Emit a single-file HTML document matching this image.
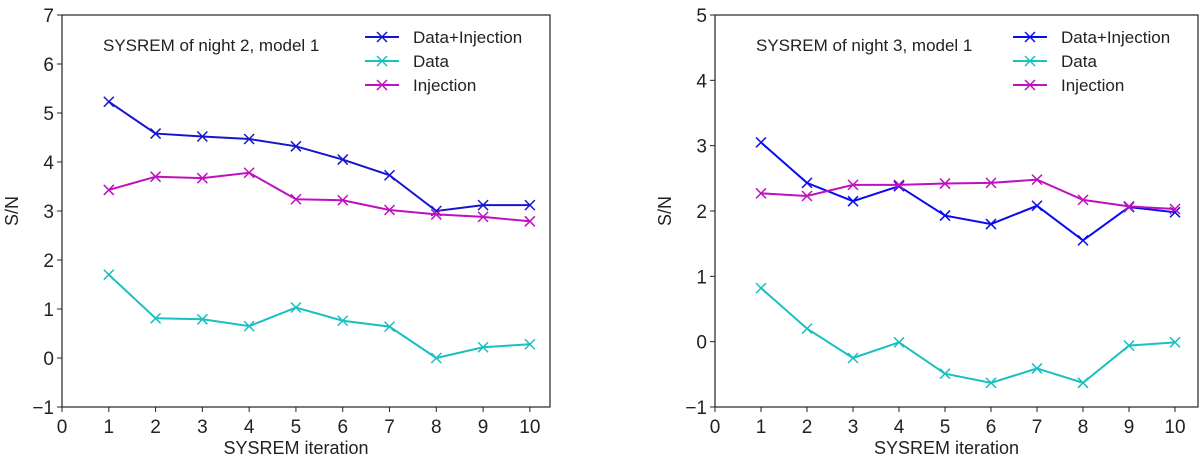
<!DOCTYPE html>
<html><head><meta charset="utf-8"><style>
body{margin:0;background:#fff;}
svg text{font-family:"Liberation Sans",sans-serif;fill:#222;}
</style></head><body>
<svg id="c" width="1200" height="460" xmlns="http://www.w3.org/2000/svg"></svg>
<script>
const iterations=[1,2,3,4,5,6,7,8,9,10];
const xTicks=[0,1,2,3,4,5,6,7,8,9,10];
const leftYTicks=[-1,0,1,2,3,4,5,6,7];
const rightYTicks=[-1,0,1,2,3,4,5];
const n2DataInj=[5.23,4.58,4.52,4.47,4.32,4.05,3.73,3.0,3.12,3.12];
const n2Data=[1.7,0.81,0.79,0.65,1.03,0.76,0.64,0.0,0.22,0.28];
const n2Inj=[3.43,3.7,3.67,3.78,3.24,3.22,3.02,2.93,2.88,2.79];
const n3DataInj=[3.05,2.43,2.15,2.38,1.93,1.8,2.08,1.55,2.06,1.98];
const n3Data=[0.82,0.2,-0.25,-0.01,-0.49,-0.63,-0.41,-0.63,-0.06,-0.01];
const n3Inj=[2.27,2.23,2.4,2.4,2.42,2.43,2.48,2.17,2.07,2.03];
const seriesNames=["Data+Injection","Data","Injection"];

const NS="http://www.w3.org/2000/svg";
const svg=document.getElementById('c');
function mk(t,a,p){const e=document.createElementNS(NS,t);for(const k in a)e.setAttribute(k,a[k]);(p||svg).appendChild(e);return e;}

function panel(id,x0,x1,xmax,y0,y1,ymin,ymax,yTicks,title,series,colors){
  const g=mk('g',{});
  
  
  const X=v=>x0+(v-0)/(xmax)*(x1-x0);
  const Y=v=>y1-(v-ymin)/(ymax-ymin)*(y1-y0);
  const fr=mk('rect',{x:x0,y:y0,width:x1-x0,height:y1-y0,fill:'none',stroke:'#222','stroke-width':1.2},g);
  
  
  xTicks.forEach(t=>{
    mk('line',{x1:X(t),x2:X(t),y1:y1,y2:y1+5,stroke:'#222'},g);
    const tx=mk('text',{x:X(t),y:y1+26,'text-anchor':'middle','font-size':19},g);tx.textContent=t;
    
    
  });
  yTicks.forEach(t=>{
    mk('line',{x1:x0-5,x2:x0,y1:Y(t),y2:Y(t),stroke:'#222'},g);
    const tx=mk('text',{x:x0-8,y:Y(t)+7,'text-anchor':'end','font-size':19},g);tx.textContent=t<0?'\u2212'+(-t):t;
    
    
  });
  const xl=mk('text',{x:(x0+x1)/2-10,y:454,'text-anchor':'middle','font-size':18},g);xl.textContent='SYSREM iteration';
  
  
  const yl=mk('text',{x:0,y:0,'text-anchor':'middle','font-size':18,transform:`translate(${x0-44},${(y0+y1)/2}) rotate(-90)`},g);yl.textContent='S/N';
  
  
  const tt=mk('text',{x:x0+41,y:51,'font-size':17},g);tt.textContent=title;
  
  
  function cross(cx,cy,c,p){mk('path',{d:`M${cx-5},${cy-5}L${cx+5},${cy+5}M${cx-5},${cy+5}L${cx+5},${cy-5}`,stroke:c,'stroke-width':1.5,fill:'none'},p);}
  series.forEach((s,i)=>{
    const sg=mk('g',{},g);
    
    
    const pts=s.map((v,j)=>X(iterations[j])+','+Y(v)).join(' ');
    mk('polyline',{points:pts,fill:'none',stroke:colors[i],'stroke-width':2},sg);
    s.forEach((v,j)=>cross(X(iterations[j]),Y(v),colors[i],sg));
    const lx=x1-185, ly=37+i*24;
    const le=mk('g',{},g);
    
    
    mk('line',{x1:lx,x2:lx+34,y1:ly,y2:ly,stroke:colors[i],'stroke-width':2},le);
    cross(lx+17,ly,colors[i],le);
    const lt=mk('text',{x:lx+48,y:ly+6,'font-size':17},le);lt.textContent=seriesNames[i];
  });
}
panel('left-panel-night-2',62,550,10.43,15,407,-1,7,leftYTicks,'SYSREM of night 2, model 1',[n2DataInj,n2Data,n2Inj],['#1515d0','#1abfbf','#bf10bf']);
panel('right-panel-night-3',715,1198,10.5,15,407,-1,5,rightYTicks,'SYSREM of night 3, model 1',[n3DataInj,n3Data,n3Inj],['#0a0af0','#1abfbf','#bf10bf']);
</script>
</body></html>
